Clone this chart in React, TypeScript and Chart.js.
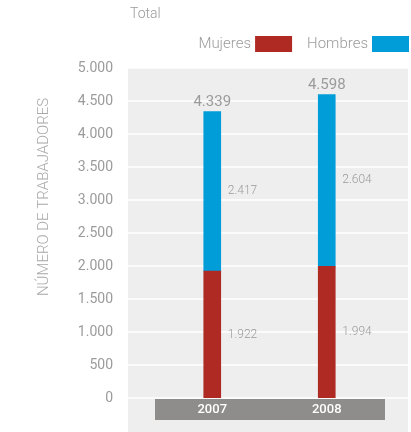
import React, { useEffect, useRef } from "react";
import { Chart, registerables } from "chart.js";

Chart.register(...registerables);

const categories = ["2007", "2008"];
const mujeres = [1922, 1994];
const hombres = [2417, 2604];
const yMax = 5000;
const yStep = 500;
const titleText = "Total";
const yTitle = "NÚMERO DE TRABAJADORES";
const seriesNames = ["Mujeres", "Hombres"];
const colors = ["#ae2a22", "#009dd9"];

const FONT = "Roboto";
const GREY = "#9b9b9b";

const fmt = (v: number) => String(Math.round(v)).replace(/\B(?=(\d{3})+(?!\d))/g, ".");

const decor = {
  id: "decor",
  beforeDraw(chart: any) {
    const { ctx, chartArea: ca, scales } = chart;
    const x = scales.x;
    const y = scales.y;
    ctx.save();
    // plot background
    const bgL = ca.left - 27;
    const bgR = ca.right + 24;
    ctx.fillStyle = "#eeeeee";
    ctx.fillRect(bgL, ca.top, bgR - bgL, chart.height - ca.top);
    // gridlines
    ctx.strokeStyle = "#ffffff";
    ctx.lineWidth = 1.5;
    y.ticks.forEach((t: any) => {
      const py = y.getPixelForValue(t.value);
      ctx.beginPath();
      ctx.moveTo(bgL, py);
      ctx.lineTo(bgR, py);
      ctx.stroke();
    });
    // category band
    ctx.fillStyle = "#8f8d8b";
    ctx.fillRect(x.left, ca.bottom + 1, x.right - x.left + 1, 21);
    ctx.fillStyle = "#ffffff";
    ctx.font = `500 13px ${FONT}`;
    ctx.textAlign = "center";
    ctx.textBaseline = "middle";
    categories.forEach((c, i) => {
      ctx.fillText(c, x.getPixelForValue(i), ca.bottom + 12);
    });
    // title
    ctx.fillStyle = GREY;
    ctx.font = `300 14px ${FONT}`;
    ctx.textAlign = "left";
    ctx.fillText(titleText, bgL + 2, 14);
    // legend (text then box), right aligned
    ctx.font = `300 15px ${FONT}`;
    let right = bgR + 1;
    for (let i = seriesNames.length - 1; i >= 0; i--) {
      const bw = 37;
      ctx.fillStyle = colors[i];
      ctx.fillRect(right - bw, 36, bw, 16);
      ctx.fillStyle = GREY;
      ctx.textAlign = "right";
      const tx = right - bw - 4;
      ctx.fillText(seriesNames[i], tx, 44);
      right = tx - ctx.measureText(seriesNames[i]).width - 15;
    }
    // y title
    ctx.save();
    ctx.translate(44, 197);
    ctx.rotate(-Math.PI / 2);
    ctx.textAlign = "center";
    ctx.textBaseline = "middle";
    ctx.font = `300 15px ${FONT}`;
    ctx.fillStyle = "#a8a8a8";
    ctx.fillText(yTitle, 0, 0);
    ctx.restore();
    ctx.restore();
  },
  afterDatasetsDraw(chart: any) {
    const { ctx } = chart;
    ctx.save();
    ctx.fillStyle = GREY;
    const n = chart.data.datasets.length;
    chart.data.datasets.forEach((ds: any, di: number) => {
      const meta = chart.getDatasetMeta(di);
      meta.data.forEach((bar: any, i: number) => {
        ctx.font = `300 12px ${FONT}`;
        ctx.textAlign = "left";
        ctx.textBaseline = "middle";
        ctx.fillText(fmt(ds.data[i]), bar.x + bar.width / 2 + 7, (bar.y + bar.base) / 2);
        if (di === n - 1) {
          let total = 0;
          chart.data.datasets.forEach((d: any) => (total += d.data[i]));
          ctx.font = `400 15px ${FONT}`;
          ctx.textAlign = "center";
          ctx.textBaseline = "bottom";
          ctx.fillText(fmt(total), bar.x, bar.y - 2);
        }
      });
    });
    ctx.restore();
  },
};

export default function App() {
  const ref = useRef<HTMLCanvasElement>(null);
  useEffect(() => {
    const chart = new Chart(ref.current as HTMLCanvasElement, {
      type: "bar",
      data: {
        labels: categories,
        datasets: [
          { label: seriesNames[0], data: mujeres, backgroundColor: colors[0], barThickness: 17 },
          { label: seriesNames[1], data: hombres, backgroundColor: colors[1], barThickness: 17 },
        ],
      },
      options: {
        responsive: false,
        animation: false,
        layout: { padding: { top: 68, bottom: 34, right: 27, left: 0 } },
        plugins: { legend: { display: false }, tooltip: { enabled: false }, title: { display: false } },
        scales: {
          x: { stacked: true, display: false },
          y: {
            stacked: true,
            min: 0,
            max: yMax,
            border: { display: false },
            grid: { display: false, drawTicks: false },
            ticks: {
              stepSize: yStep,
              padding: 42,
              color: GREY,
              font: { family: FONT, size: 14, weight: "400" as any },
              callback: (v: any) => fmt(Number(v)),
            },
            afterFit: (s: any) => {
              s.width = 155;
              s.paddingTop = 0;
              s.paddingBottom = 0;
            },
          },
        },
      },
      plugins: [decor],
    });
    return () => chart.destroy();
  }, []);
  return (
    <div style={{ position: "absolute", left: 0, top: 0, width: 411, height: 432 }}>
      <canvas ref={ref} width={411} height={432} style={{ display: "block" }} />
    </div>
  );
}
